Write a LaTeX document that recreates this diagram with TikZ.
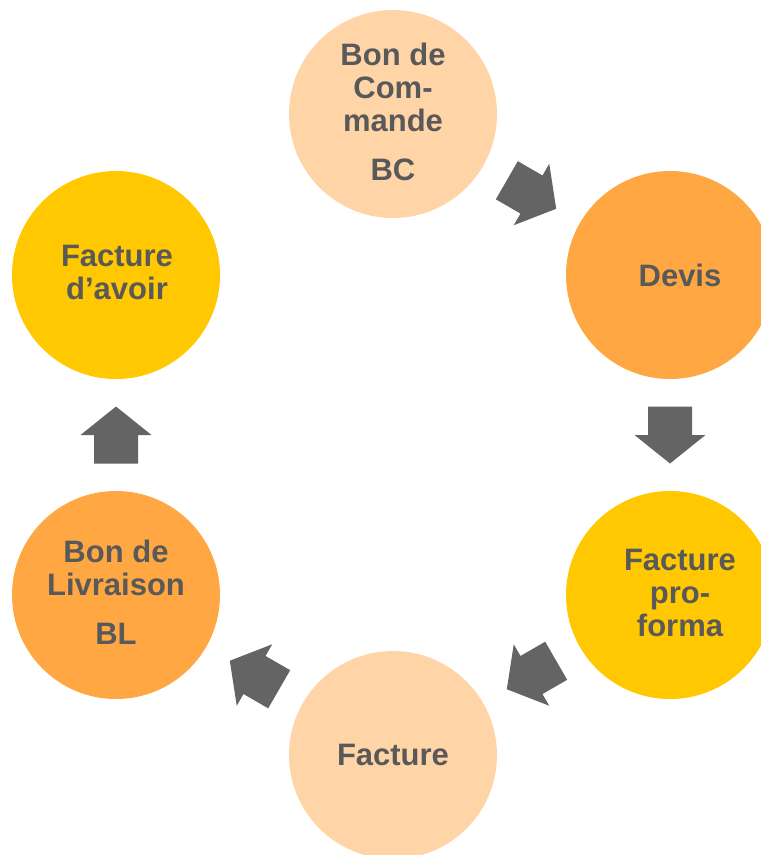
\documentclass[tikz,border=0pt]{standalone}
\usepackage{fontspec}
\setmainfont{Liberation Sans}
\usetikzlibrary{calc}

\definecolor{docpeach}{HTML}{FFD5A8}
\definecolor{docorange}{HTML}{FFA843}
\definecolor{docyellow}{HTML}{FFC800}
\definecolor{docgray}{HTML}{595959}
\definecolor{arrowgray}{HTML}{646464}

\tikzset{pics/flowarrow/.style={code={
  \fill[arrowgray] (-28.5,-22) -- (0,-22) -- (0,-35.5) -- (28.5,0)
    -- (0,35.5) -- (0,22) -- (-28.5,22) -- cycle;}}}

\begin{document}
\begin{tikzpicture}[x=1pt,y=1pt,
                    doc/.style={circle,minimum size=208pt,inner sep=0pt},
                    lbl/.style={align=center,text=docgray,
                                font=\fontsize{31}{33}\selectfont\bfseries}]
  \useasboundingbox (0,0) rectangle (761,-855);

  \node[doc,fill=docpeach]  (bc)       at (393,-114) {};
  \node[doc,fill=docorange] (devis)    at (670,-275) {};
  \node[doc,fill=docyellow] (proforma) at (670,-595) {};
  \node[doc,fill=docpeach]  (facture)  at (393,-755) {};
  \node[doc,fill=docorange] (bl)       at (116,-595) {};
  \node[doc,fill=docyellow] (avoir)    at (116,-275) {};

  \node[lbl] (bctxt)       at ([yshift=2.5]bc)              {Bon de\\Com-\\mande\\[16pt]BC};
  \node[lbl] (devistxt)    at ([xshift=10]devis)            {Devis};
  \node[lbl] (proformatxt) at ([xshift=10,yshift=2]proforma) {Facture\\pro-\\forma};
  \node[lbl] (facturetxt)  at (facture)                     {Facture};
  \node[lbl] (bltxt)       at ([yshift=2.5]bl)              {Bon de\\Livraison\\[16pt]BL};
  \node[lbl] (avoirtxt)    at ([xshift=1,yshift=2.5]avoir)  {Facture\\d’avoir};

  % arrows between the steps
  \pic[rotate=-30] at ($(bc)!0.5!(devis)$)         {flowarrow};
  \pic[rotate=-90] at ($(devis)!0.5!(proforma)$)   {flowarrow};
  \pic[rotate=210] at ($(proforma)!0.5!(facture)$) {flowarrow};
  \pic[rotate=150] at ($(facture)!0.5!(bl)$)       {flowarrow};
  \pic[rotate=90]  at ($(bl)!0.5!(avoir)$)         {flowarrow};
\end{tikzpicture}
\end{document}
